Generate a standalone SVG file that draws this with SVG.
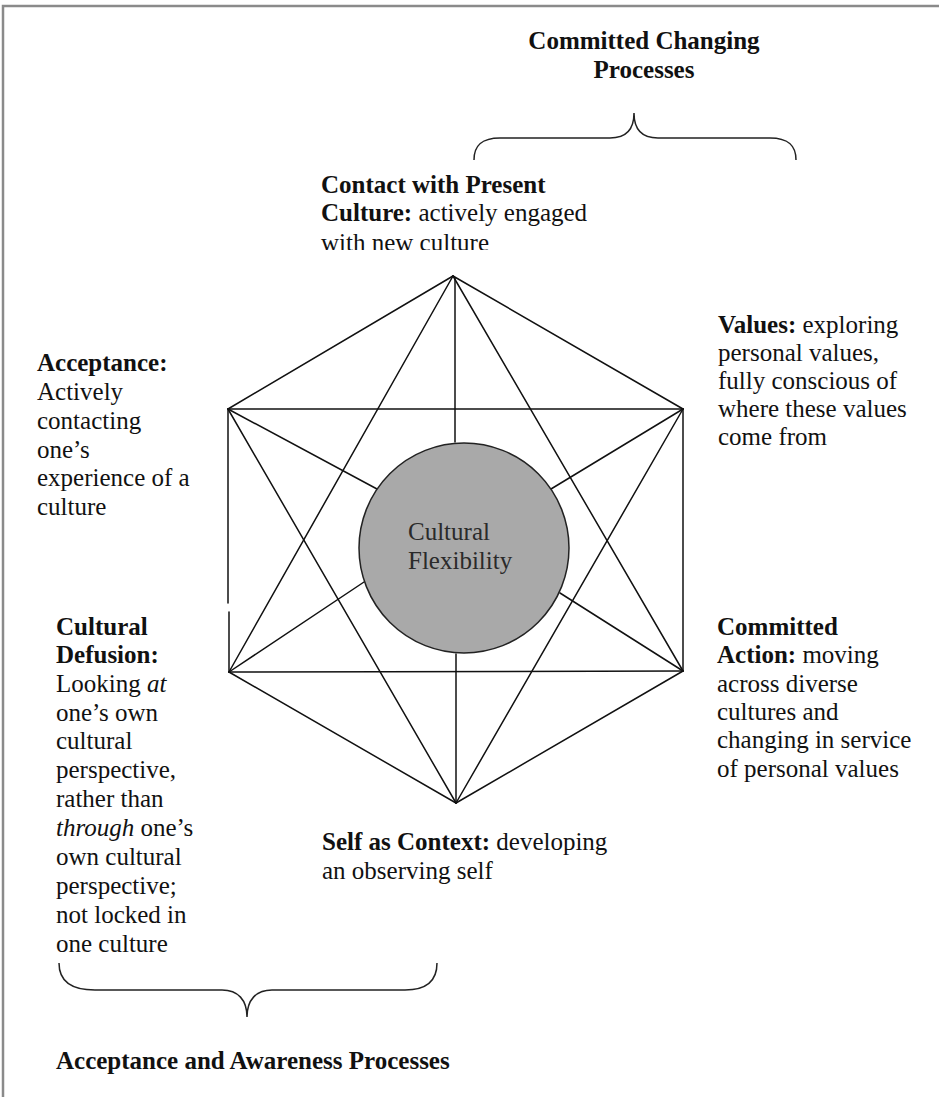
<svg xmlns="http://www.w3.org/2000/svg" width="939" height="1097" viewBox="0 0 939 1097">
<style>
text{font-family:"Liberation Serif","Times New Roman",serif;font-size:25px;fill:#111}
.b{font-weight:bold}
.i{font-style:italic}
.ln{stroke:#111;stroke-width:1.5;fill:none;stroke-linecap:round}
.br{stroke:#222;stroke-width:1.5;fill:none}
.frame{stroke:#8a8a8a;stroke-width:2.5;fill:none}
</style>
<defs>
<clipPath id="clipTop"><rect x="300" y="160" width="320" height="90"/></clipPath>
</defs>
<rect width="939" height="1097" fill="#fff"/>
<path class="frame" d="M3,1097 L3,6 L939,6"/>

<g id="header-committed">
<text class="b" x="644" y="49" text-anchor="middle">Committed Changing</text>
<text class="b" x="644" y="78" text-anchor="middle">Processes</text>
<path class="br" d="M474,160 C474,146 481,138 500,138 L610,138 C626,138 634,129 634,113 C634,129 642,138 658,138 L770,138 C789,138 796,146 796,160"/>
</g>

<g id="connectors">
<!-- hexagon edges -->
<line class="ln" x1="453" y1="276" x2="228" y2="409"/>
<line class="ln" x1="453" y1="276" x2="683" y2="409"/>
<line class="ln" x1="228" y1="409" x2="228" y2="603"/>
<line class="ln" x1="229" y1="612" x2="229" y2="672"/>
<line class="ln" x1="683" y1="409" x2="683" y2="671"/>
<line class="ln" x1="229" y1="672" x2="456" y2="803"/>
<line class="ln" x1="683" y1="671" x2="456" y2="803"/>
<!-- star triangles -->
<line class="ln" x1="228" y1="409" x2="683" y2="409"/>
<line class="ln" x1="228" y1="409" x2="456" y2="803"/>
<line class="ln" x1="683" y1="409" x2="456" y2="803"/>
<line class="ln" x1="229" y1="672" x2="683" y2="671"/>
<line class="ln" x1="453" y1="276" x2="229" y2="672"/>
<line class="ln" x1="453" y1="276" x2="683" y2="671"/>
<!-- spokes -->
<line class="ln" x1="455" y1="278" x2="455" y2="442"/>
<line class="ln" x1="456" y1="654" x2="456" y2="803"/>
<line class="ln" x1="228" y1="409" x2="377" y2="489"/>
<line class="ln" x1="683" y1="409" x2="551" y2="489"/>
<line class="ln" x1="229" y1="672" x2="370" y2="578"/>
<line class="ln" x1="683" y1="671" x2="560" y2="593"/>
</g>

<g id="center">
<circle cx="464" cy="548" r="105" fill="#a9a9a9" stroke="#222" stroke-width="1.5"/>
<text x="408" y="540" style="fill:#2a2a2a">Cultural</text>
<text x="408" y="569" style="fill:#2a2a2a">Flexibility</text>
</g>

<g id="contact" clip-path="url(#clipTop)">
<text x="321" y="193"><tspan class="b">Contact with Present</tspan></text>
<text x="321" y="221"><tspan class="b">Culture:</tspan> actively engaged</text>
<text x="321" y="251">with new culture</text>
</g>

<g id="values">
<text x="718" y="333"><tspan class="b">Values:</tspan> exploring</text>
<text x="718" y="361">personal values,</text>
<text x="718" y="389">fully conscious of</text>
<text x="718" y="417">where these values</text>
<text x="718" y="445">come from</text>
</g>

<g id="acceptance">
<text class="b" x="37" y="371">Acceptance:</text>
<text x="37" y="400">Actively</text>
<text x="37" y="429">contacting</text>
<text x="37" y="458">one’s</text>
<text x="37" y="486">experience of a</text>
<text x="37" y="515">culture</text>
</g>

<g id="defusion">
<text class="b" x="56" y="635">Cultural</text>
<text class="b" x="56" y="663">Defusion:</text>
<text x="56" y="692">Looking <tspan class="i">at</tspan></text>
<text x="56" y="721">one’s own</text>
<text x="56" y="749">cultural</text>
<text x="56" y="778">perspective,</text>
<text x="56" y="807">rather than</text>
<text x="56" y="836"><tspan class="i">through</tspan> one’s</text>
<text x="56" y="865">own cultural</text>
<text x="56" y="894">perspective;</text>
<text x="56" y="923">not locked in</text>
<text x="56" y="952">one culture</text>
</g>

<g id="committed-action">
<text class="b" x="717" y="635">Committed</text>
<text x="717" y="663"><tspan class="b">Action:</tspan> moving</text>
<text x="717" y="692">across diverse</text>
<text x="717" y="720">cultures and</text>
<text x="717" y="748">changing in service</text>
<text x="717" y="777">of personal values</text>
</g>

<g id="self-context">
<text x="322" y="850"><tspan class="b">Self as Context:</tspan> developing</text>
<text x="322" y="879">an observing self</text>
</g>

<g id="footer-acceptance">
<path class="br" d="M59,963 C59,980 70,990 95,990 L222,990 C238,990 247,1000 247,1017 C247,1000 256,990 272,990 L405,990 C428,990 437,980 437,963"/>
<text class="b" x="56" y="1069">Acceptance and Awareness Processes</text>
</g>
</svg>
